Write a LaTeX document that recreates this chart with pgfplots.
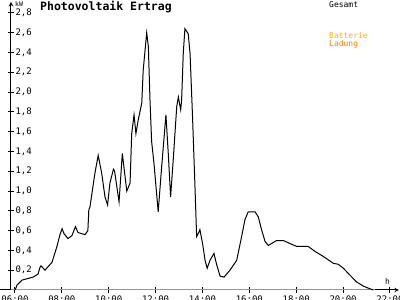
\documentclass[border=0pt]{standalone}
\usepackage{fontspec}
\setmainfont{DejaVu Sans Mono}
\usepackage{pgfplots}
\pgfplotsset{compat=1.18}
\definecolor{lad}{RGB}{255,128,0}
\definecolor{bat}{RGB}{255,176,0}
\pgfplotstableread{
h v
6.00 0
6.04 0.02
6.085 0.05
6.30 0.10
6.77 0.13
6.98 0.16
7.07 0.23
7.11 0.245
7.28 0.20
7.58 0.28
7.79 0.44
7.92 0.56
8.01 0.62
8.09 0.57
8.26 0.52
8.43 0.55
8.58 0.64
8.69 0.58
8.99 0.56
9.11 0.60
9.15 0.81
9.20 0.84
9.41 1.18
9.55 1.36
9.70 1.18
9.84 0.94
9.95 0.86
10.05 1.08
10.20 1.22
10.25 1.20
10.44 0.89
10.58 1.38
10.77 1.00
10.91 1.08
10.98 1.58
11.08 1.77
11.16 1.58
11.26 1.72
11.41 1.89
11.47 2.22
11.62 2.60
11.69 2.46
11.76 1.92
11.83 1.50
11.93 1.28
12.11 0.79
12.26 1.25
12.44 1.77
12.54 1.38
12.64 0.94
12.75 1.31
12.90 1.85
12.97 1.95
13.07 1.82
13.11 1.92
13.18 2.39
13.25 2.64
13.39 2.59
13.47 2.39
13.58 1.72
13.68 1.04
13.75 0.54
13.82 0.57
13.89 0.61
14.01 0.46
14.11 0.30
14.20 0.22
14.32 0.30
14.49 0.37
14.60 0.26
14.75 0.14
14.92 0.13
15.17 0.20
15.46 0.30
15.67 0.54
15.81 0.71
15.95 0.79
16.24 0.79
16.38 0.74
16.52 0.61
16.67 0.49
16.81 0.45
16.95 0.47
17.16 0.50
17.45 0.50
17.73 0.47
18.02 0.44
18.30 0.44
18.51 0.44
18.80 0.39
19.15 0.34
19.58 0.27
19.79 0.26
20.01 0.22
20.29 0.15
20.58 0.08
20.86 0.04
21.06 0.02
21.29 0.00
}\gesamt
\begin{document}
\begin{tikzpicture}[x=1pt,y=1pt]
\path[use as bounding box] (0,0) rectangle (400,300);
\clip (0,0) rectangle (400,300);
\fill[white] (0,0) rectangle (400,300);
\begin{axis}[
  at={(11pt,10pt)}, anchor=south west,
  scale only axis, width=387.9pt, height=288pt,
  xmin=5.83, xmax=22.38, ymin=0, ymax=2.91,
  axis x line=bottom, axis y line=left,
  axis line style={line width=1pt},
  clip=false,
  tick align=center, major tick length=6pt,
  tick style={black, line width=1pt},
  xtick={6,8,10,12,14,16,18,20,22},
  xticklabels={06:00,08:00,10:00,12:00,14:00,16:00,18:00,20:00,22:00},
  ytick={0.2,0.4,0.6,0.8,1.0,1.2,1.4,1.6,1.8,2.0,2.2,2.4,2.6,2.8},
  yticklabels={{0,2},{0,4},{0,6},{0,8},{1,0},{1,2},{1,4},{1,6},{1,8},{2,0},{2,2},{2,4},{2,6},{2,8}},
  tick label style={font=\fontsize{9}{9}\selectfont},
  yticklabel style={anchor=west, xshift=4pt},
  xticklabel style={anchor=north, yshift=1pt},
  /pgf/number format/assume math mode=true,
]
\addplot[lad, line width=1pt] coordinates {(5.83,0) (21.36,0)};
\addplot[black, line width=1pt] table[x=h, y=v] {\gesamt};
\draw[line width=1pt] (axis cs:5.36,0) -- (axis cs:5.83,0);
\end{axis}
\node[anchor=base west, inner sep=0, font=\bfseries\fontsize{11.5}{12}\selectfont] at (40,289) {Photovoltaik Ertrag};
\node[anchor=base west, inner sep=0, font=\fontsize{6.5}{7}\selectfont] at (15,293) {kW};
\node[anchor=base west, inner sep=0, font=\fontsize{8}{8}\selectfont] at (329,292.7) {Gesamt};
\node[anchor=base west, inner sep=0, font=\fontsize{8}{8}\selectfont, text=bat] at (329,261.5) {Batterie};
\node[anchor=base west, inner sep=0, font=\fontsize{8}{8}\selectfont, text=lad] at (329,253.5) {Ladung};
\node[anchor=base west, inner sep=0, font=\fontsize{8}{8}\selectfont] at (385,15) {h};
\end{tikzpicture}
\end{document}
